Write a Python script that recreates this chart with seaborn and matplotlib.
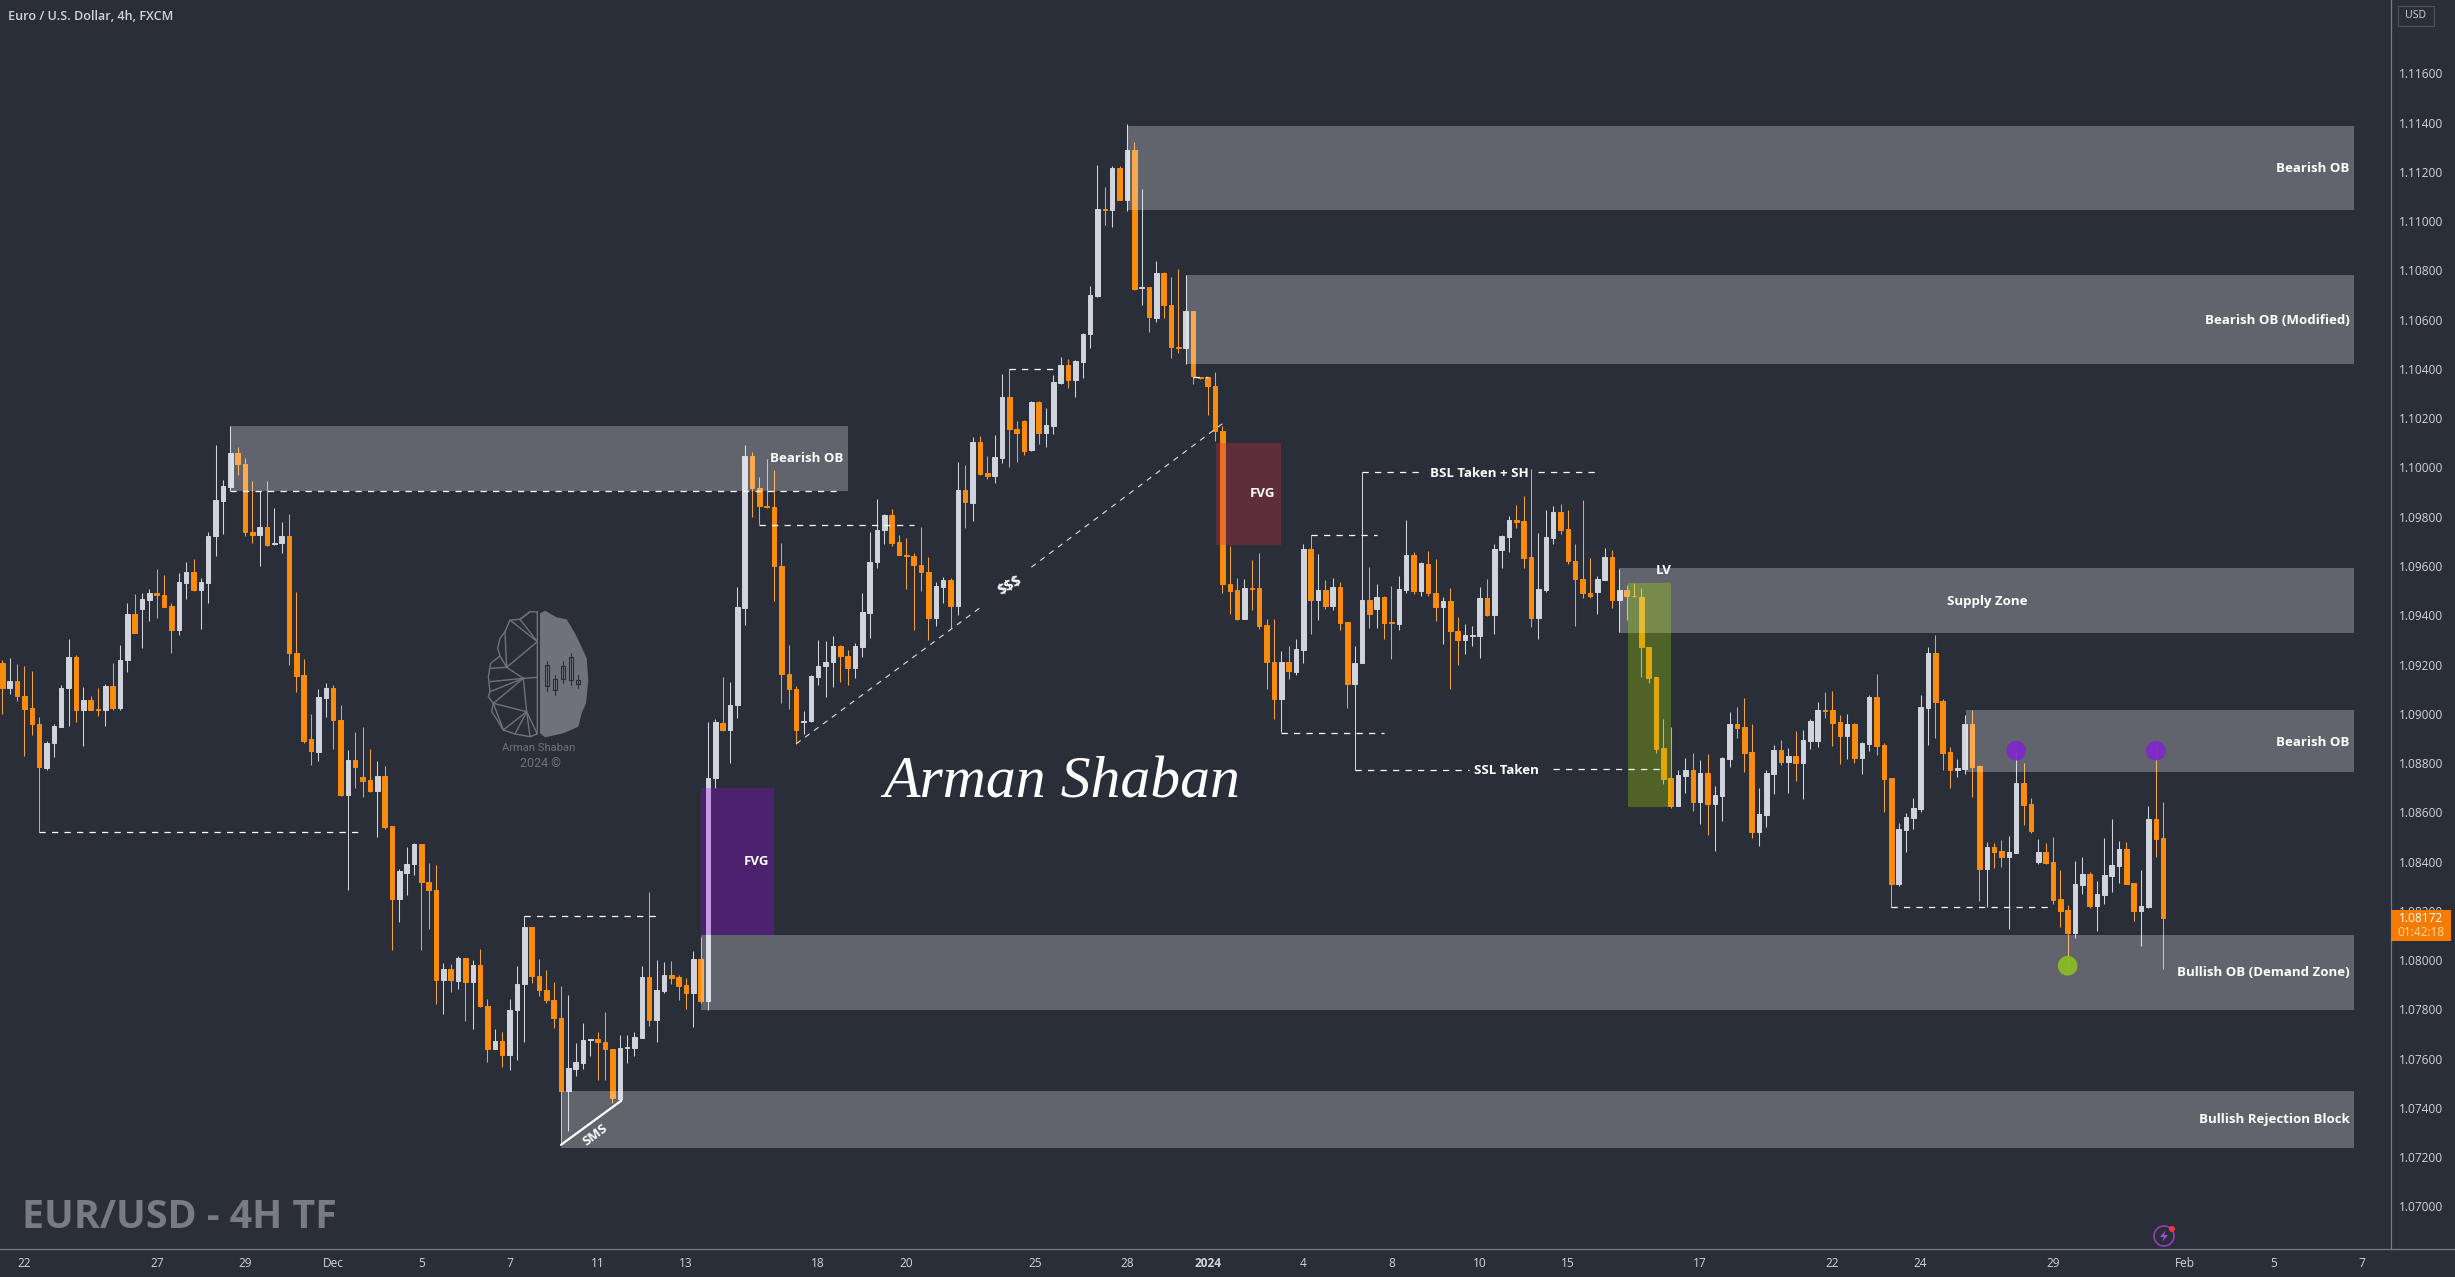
import matplotlib
matplotlib.use("Agg")
import matplotlib.pyplot as plt
from matplotlib.patches import Rectangle, Polygon, Circle
import numpy as np
import pandas as pd
import seaborn as sns

BG = "#2a2e39"
UP = "#d1d4dc"
DOWN = "#fb8c0e"
TXT = "#d1d4dc"
WATERMARK = "#6f727c"

# EUR/USD 4h candles, one value per bar
opens = [
    1.09206, 1.09103, 1.09134, 1.09072, 1.09024, 1.08958, 1.08778, 1.08881, 1.08947, 1.09103,
    1.09231, 1.09014, 1.09055, 1.09020, 1.09014, 1.09113, 1.09024, 1.09217, 1.09405, 1.09426,
    1.09463, 1.09490, 1.09483, 1.09438, 1.09339, 1.09533, 1.09577, 1.09504, 1.09533, 1.09720,
    1.09864, 1.09920, 1.10059, 1.10016, 1.09740, 1.09724, 1.09757, 1.09688, 1.09693, 1.09722,
    1.09245, 1.09156, 1.08898, 1.08846, 1.09065, 1.09105, 1.08974, 1.08672, 1.08813, 1.08745,
    1.08732, 1.08687, 1.08749, 1.08546, 1.08250, 1.08355, 1.08389, 1.08473, 1.08316, 1.08285,
    1.07919, 1.07962, 1.07917, 1.08008, 1.07910, 1.07981, 1.07813, 1.07639, 1.07672, 1.07614,
    1.07797, 1.07902, 1.08136, 1.07937, 1.07877, 1.07838, 1.07765, 1.07467, 1.07558, 1.07581,
    1.07676, 1.07681, 1.07668, 1.07637, 1.07438, 1.07645, 1.07643, 1.07683, 1.07931, 1.07757,
    1.07874, 1.07939, 1.07931, 1.07899, 1.07866, 1.08004, 1.07834, 1.08739, 1.08962, 1.08936,
    1.09035, 1.09430, 1.10047, 1.09915, 1.09844, 1.09840, 1.09600, 1.09161, 1.09101, 1.08967,
    1.08969, 1.09151, 1.09192, 1.09209, 1.09277, 1.09234, 1.09184, 1.09273, 1.09408, 1.09615,
    1.09745, 1.09809, 1.09699, 1.09645, 1.09639, 1.09604, 1.09575, 1.09387, 1.09515, 1.09544,
    1.09436, 1.09908, 1.09857, 1.10105, 1.09979, 1.09964, 1.10039, 1.10287, 1.10155, 1.10188,
    1.10070, 1.10267, 1.10138, 1.10169, 1.10345, 1.10418, 1.10356, 1.10428, 1.10540, 1.10697,
    1.11049, 1.11047, 1.11217, 1.11086, 1.11289, 1.10728, 1.10734, 1.10606, 1.10788, 1.10658,
    1.10490, 1.10484, 1.10635, 1.10366, 1.10366, 1.10329, 1.10147, 1.09525, 1.09501, 1.09384,
    1.09509, 1.09509, 1.09359, 1.09212, 1.09061, 1.09212, 1.09170, 1.09260, 1.09671, 1.09463,
    1.09501, 1.09438, 1.09513, 1.09372, 1.09122, 1.09207, 1.09460, 1.09426, 1.09476, 1.09372,
    1.09365, 1.09503, 1.09644, 1.09498, 1.09610, 1.09492, 1.09433, 1.09456, 1.09338, 1.09300,
    1.09316, 1.09317, 1.09469, 1.09401, 1.09666, 1.09718, 1.09785, 1.09781, 1.09636, 1.09390,
    1.09501, 1.09714, 1.09821, 1.09750, 1.09622, 1.09549, 1.09492, 1.09494, 1.09544, 1.09636,
    1.09461, 1.09502, 1.09480, 1.09476, 1.09273, 1.09148, 1.08860, 1.08738, 1.08626, 1.08748,
    1.08772, 1.08643, 1.08760, 1.08634, 1.08666, 1.08817, 1.08959, 1.08946, 1.08845, 1.08520,
    1.08589, 1.08756, 1.08853, 1.08804, 1.08829, 1.08800, 1.08890, 1.08889, 1.09015, 1.09015,
    1.08966, 1.08909, 1.08958, 1.08820, 1.08877, 1.09067, 1.08873, 1.08739, 1.08308, 1.08528,
    1.08576, 1.08613, 1.09023, 1.09246, 1.09051, 1.08844, 1.08771, 1.08775, 1.08958, 1.08787,
    1.08369, 1.08459, 1.08442, 1.08418, 1.08434, 1.08718, 1.08633, 1.08398, 1.08438, 1.08398,
    1.08248, 1.08203, 1.08110, 1.08304, 1.08349, 1.08219, 1.08264, 1.08341, 1.08381, 1.08450,
    1.08312, 1.08199, 1.08215, 1.08572, 1.08495,
]
highs = [
    1.09217, 1.09227, 1.09202, 1.09196, 1.09175, 1.08985, 1.08889, 1.08958, 1.09117, 1.09303,
    1.09237, 1.09107, 1.09072, 1.09103, 1.09119, 1.09206, 1.09281, 1.09450, 1.09486, 1.09492,
    1.09506, 1.09589, 1.09564, 1.09450, 1.09573, 1.09616, 1.09628, 1.09552, 1.09738, 1.10090,
    1.09951, 1.10169, 1.10084, 1.10040, 1.09945, 1.09906, 1.09945, 1.09835, 1.09780, 1.09813,
    1.09494, 1.09223, 1.08999, 1.09101, 1.09123, 1.09115, 1.09034, 1.08854, 1.08927, 1.08947,
    1.08858, 1.08809, 1.08788, 1.08546, 1.08368, 1.08461, 1.08477, 1.08473, 1.08395, 1.08386,
    1.07989, 1.07985, 1.08018, 1.08010, 1.08000, 1.08047, 1.07844, 1.07722, 1.07710, 1.07844,
    1.07974, 1.08177, 1.08136, 1.08006, 1.07958, 1.07912, 1.07896, 1.07857, 1.07664, 1.07743,
    1.07680, 1.07710, 1.07788, 1.07637, 1.07696, 1.07696, 1.07708, 1.07976, 1.08276, 1.08000,
    1.07992, 1.07996, 1.07939, 1.07927, 1.08037, 1.08094, 1.08967, 1.08977, 1.09149, 1.09130,
    1.09513, 1.10093, 1.10064, 1.09960, 1.10035, 1.09991, 1.09695, 1.09281, 1.09112, 1.09012,
    1.09157, 1.09298, 1.09294, 1.09314, 1.09281, 1.09260, 1.09287, 1.09492, 1.09737, 1.09873,
    1.09811, 1.09832, 1.09726, 1.09712, 1.09654, 1.09757, 1.09635, 1.09536, 1.09557, 1.09550,
    1.10022, 1.10012, 1.10124, 1.10126, 1.10047, 1.10132, 1.10380, 1.10399, 1.10188, 1.10192,
    1.10271, 1.10271, 1.10242, 1.10374, 1.10449, 1.10440, 1.10436, 1.10548, 1.10736, 1.11227,
    1.11138, 1.11223, 1.11223, 1.11393, 1.11322, 1.11132, 1.10734, 1.10838, 1.10792, 1.10772,
    1.10807, 1.10782, 1.10637, 1.10368, 1.10366, 1.10389, 1.10168, 1.09681, 1.09553, 1.09547,
    1.09624, 1.09651, 1.09386, 1.09383, 1.09254, 1.09275, 1.09303, 1.09689, 1.09725, 1.09648,
    1.09543, 1.09553, 1.09537, 1.09372, 1.09275, 1.09980, 1.09595, 1.09526, 1.09478, 1.09518,
    1.09559, 1.09786, 1.09656, 1.09617, 1.09660, 1.09628, 1.09475, 1.09509, 1.09391, 1.09363,
    1.09356, 1.09516, 1.09549, 1.09689, 1.09724, 1.09801, 1.09847, 1.09884, 1.09992, 1.09735,
    1.09827, 1.09843, 1.09851, 1.09827, 1.09691, 1.09867, 1.09631, 1.09559, 1.09672, 1.09664,
    1.09587, 1.09522, 1.09533, 1.09509, 1.09273, 1.09148, 1.08979, 1.08946, 1.08772, 1.08819,
    1.08841, 1.08812, 1.08837, 1.08707, 1.08825, 1.09007, 1.09028, 1.09064, 1.08959, 1.08699,
    1.08772, 1.08873, 1.08894, 1.08861, 1.08930, 1.08933, 1.08978, 1.09047, 1.09088, 1.09092,
    1.08994, 1.08998, 1.08962, 1.08885, 1.09076, 1.09161, 1.08881, 1.08739, 1.08556, 1.08597,
    1.08657, 1.09076, 1.09270, 1.09319, 1.09059, 1.08865, 1.08816, 1.08994, 1.09015, 1.08791,
    1.08479, 1.08475, 1.08487, 1.08503, 1.08852, 1.08800, 1.08657, 1.08491, 1.08475, 1.08499,
    1.08365, 1.08223, 1.08402, 1.08418, 1.08357, 1.08321, 1.08495, 1.08572, 1.08483, 1.08479,
    1.08312, 1.08365, 1.08625, 1.08873, 1.08641,
]
lows = [
    1.08999, 1.09082, 1.09051, 1.08827, 1.08912, 1.08519, 1.08771, 1.08823, 1.08947, 1.08952,
    1.08968, 1.08871, 1.09016, 1.08989, 1.08952, 1.09016, 1.09016, 1.09171, 1.09326, 1.09268,
    1.09378, 1.09388, 1.09434, 1.09248, 1.09320, 1.09465, 1.09500, 1.09345, 1.09450, 1.09641,
    1.09730, 1.09904, 1.09968, 1.09720, 1.09693, 1.09599, 1.09682, 1.09686, 1.09651, 1.09200,
    1.09088, 1.08881, 1.08792, 1.08807, 1.08985, 1.08858, 1.08668, 1.08285, 1.08699, 1.08664,
    1.08682, 1.08498, 1.08533, 1.08041, 1.08155, 1.08264, 1.08347, 1.08041, 1.08126, 1.07821,
    1.07782, 1.07871, 1.07881, 1.07751, 1.07722, 1.07809, 1.07587, 1.07639, 1.07567, 1.07554,
    1.07596, 1.07668, 1.07906, 1.07854, 1.07825, 1.07724, 1.07250, 1.07308, 1.07529, 1.07556,
    1.07610, 1.07513, 1.07513, 1.07420, 1.07434, 1.07583, 1.07610, 1.07683, 1.07734, 1.07667,
    1.07868, 1.07903, 1.07838, 1.07801, 1.07728, 1.07826, 1.07797, 1.08698, 1.08929, 1.08801,
    1.08983, 1.09360, 1.09799, 1.09770, 1.09836, 1.09457, 1.09043, 1.09018, 1.08878, 1.08919,
    1.08967, 1.09118, 1.09070, 1.09107, 1.09128, 1.09116, 1.09147, 1.09232, 1.09308, 1.09592,
    1.09691, 1.09681, 1.09643, 1.09505, 1.09339, 1.09499, 1.09298, 1.09356, 1.09449, 1.09350,
    1.09401, 1.09753, 1.09784, 1.09971, 1.09954, 1.09935, 1.10018, 1.10002, 1.10022, 1.10049,
    1.10068, 1.10095, 1.10084, 1.10136, 1.10337, 1.10322, 1.10285, 1.10364, 1.10484, 1.10693,
    1.10985, 1.10975, 1.11086, 1.11043, 1.10722, 1.10658, 1.10550, 1.10592, 1.10608, 1.10443,
    1.10463, 1.10420, 1.10339, 1.10360, 1.10213, 1.10109, 1.09491, 1.09405, 1.09380, 1.09383,
    1.09421, 1.09346, 1.09101, 1.08980, 1.08926, 1.09142, 1.09157, 1.09207, 1.09325, 1.09380,
    1.09426, 1.09421, 1.09342, 1.09024, 1.08771, 1.09207, 1.09349, 1.09350, 1.09304, 1.09223,
    1.09342, 1.09491, 1.09486, 1.09479, 1.09480, 1.09377, 1.09284, 1.09101, 1.09198, 1.09242,
    1.09275, 1.09227, 1.09399, 1.09322, 1.09591, 1.09658, 1.09755, 1.09590, 1.09353, 1.09302,
    1.09495, 1.09690, 1.09729, 1.09610, 1.09357, 1.09471, 1.09470, 1.09406, 1.09543, 1.09430,
    1.09332, 1.09380, 1.09476, 1.09149, 1.09126, 1.08839, 1.08715, 1.08619, 1.08626, 1.08677,
    1.08605, 1.08553, 1.08508, 1.08443, 1.08565, 1.08784, 1.08902, 1.08764, 1.08496, 1.08463,
    1.08540, 1.08674, 1.08792, 1.08678, 1.08727, 1.08655, 1.08856, 1.08865, 1.08982, 1.08869,
    1.08796, 1.08816, 1.08800, 1.08755, 1.08848, 1.08832, 1.08601, 1.08215, 1.08300, 1.08438,
    1.08532, 1.08601, 1.08873, 1.08901, 1.08771, 1.08698, 1.08743, 1.08755, 1.08662, 1.08239,
    1.08215, 1.08373, 1.08377, 1.08126, 1.08434, 1.08548, 1.08515, 1.08390, 1.08390, 1.08227,
    1.08134, 1.07959, 1.08089, 1.08268, 1.08211, 1.08118, 1.08227, 1.08276, 1.08312, 1.08308,
    1.08158, 1.08057, 1.08211, 1.08418, 1.07963,
]
closes = [
    1.09103, 1.09134, 1.09072, 1.09020, 1.08958, 1.08782, 1.08883, 1.08952, 1.09103, 1.09231,
    1.09014, 1.09055, 1.09016, 1.09016, 1.09113, 1.09024, 1.09219, 1.09405, 1.09326, 1.09465,
    1.09492, 1.09481, 1.09434, 1.09339, 1.09535, 1.09577, 1.09504, 1.09535, 1.09722, 1.09869,
    1.09924, 1.10059, 1.10016, 1.09740, 1.09724, 1.09757, 1.09686, 1.09693, 1.09722, 1.09245,
    1.09154, 1.08891, 1.08848, 1.09070, 1.09105, 1.08974, 1.08672, 1.08813, 1.08784, 1.08728,
    1.08687, 1.08749, 1.08540, 1.08250, 1.08360, 1.08389, 1.08473, 1.08316, 1.08283, 1.07919,
    1.07962, 1.07919, 1.08010, 1.07910, 1.07981, 1.07813, 1.07639, 1.07672, 1.07614, 1.07799,
    1.07902, 1.08136, 1.07937, 1.07877, 1.07838, 1.07765, 1.07467, 1.07561, 1.07587, 1.07674,
    1.07678, 1.07668, 1.07637, 1.07440, 1.07643, 1.07648, 1.07687, 1.07931, 1.07757, 1.07878,
    1.07939, 1.07927, 1.07895, 1.07866, 1.08004, 1.07834, 1.08739, 1.08967, 1.08933, 1.09035,
    1.09434, 1.10047, 1.09915, 1.09842, 1.09840, 1.09600, 1.09161, 1.09101, 1.08933, 1.08971,
    1.09153, 1.09194, 1.09211, 1.09277, 1.09234, 1.09186, 1.09277, 1.09412, 1.09617, 1.09747,
    1.09809, 1.09695, 1.09643, 1.09641, 1.09604, 1.09575, 1.09389, 1.09519, 1.09544, 1.09436,
    1.09908, 1.09859, 1.10105, 1.09975, 1.09964, 1.10043, 1.10287, 1.10155, 1.10138, 1.10068,
    1.10267, 1.10138, 1.10173, 1.10347, 1.10418, 1.10356, 1.10432, 1.10542, 1.10701, 1.11049,
    1.11045, 1.11217, 1.11088, 1.11289, 1.10726, 1.10734, 1.10610, 1.10788, 1.10658, 1.10488,
    1.10486, 1.10635, 1.10370, 1.10362, 1.10329, 1.10147, 1.09525, 1.09499, 1.09384, 1.09509,
    1.09506, 1.09357, 1.09212, 1.09061, 1.09212, 1.09172, 1.09261, 1.09671, 1.09463, 1.09501,
    1.09438, 1.09513, 1.09369, 1.09122, 1.09208, 1.09460, 1.09406, 1.09476, 1.09369, 1.09369,
    1.09506, 1.09644, 1.09498, 1.09612, 1.09491, 1.09434, 1.09456, 1.09337, 1.09300, 1.09318,
    1.09319, 1.09469, 1.09401, 1.09668, 1.09720, 1.09786, 1.09779, 1.09633, 1.09390, 1.09506,
    1.09717, 1.09821, 1.09747, 1.09621, 1.09548, 1.09491, 1.09479, 1.09547, 1.09636, 1.09463,
    1.09502, 1.09479, 1.09478, 1.09272, 1.09146, 1.08858, 1.08735, 1.08626, 1.08752, 1.08772,
    1.08643, 1.08760, 1.08634, 1.08670, 1.08821, 1.08959, 1.08942, 1.08841, 1.08520, 1.08593,
    1.08760, 1.08853, 1.08804, 1.08829, 1.08800, 1.08893, 1.08970, 1.09015, 1.09012, 1.08962,
    1.08909, 1.08958, 1.08820, 1.08881, 1.09067, 1.08869, 1.08735, 1.08308, 1.08532, 1.08580,
    1.08617, 1.09027, 1.09246, 1.09047, 1.08840, 1.08771, 1.08779, 1.08958, 1.08783, 1.08369,
    1.08459, 1.08438, 1.08418, 1.08438, 1.08718, 1.08629, 1.08524, 1.08438, 1.08394, 1.08243,
    1.08199, 1.08110, 1.08308, 1.08349, 1.08219, 1.08268, 1.08345, 1.08386, 1.08450, 1.08308,
    1.08199, 1.08219, 1.08572, 1.08491, 1.08172,
]

# axis labels
price_ticks = [1.070, 1.072, 1.074, 1.076, 1.078, 1.080, 1.082, 1.084, 1.086, 1.088, 1.090, 1.092,
               1.094, 1.096, 1.098, 1.100, 1.102, 1.104, 1.106, 1.108, 1.110, 1.112, 1.114, 1.116]
date_bars = [3, 21, 33, 45, 57, 69, 81, 93, 111, 123, 140.5, 153, 164, 177, 189, 201, 213, 231,
             249, 261, 279, 297, 309, 321]
date_labels = ["22", "27", "29", "Dec", "5", "7", "11", "13", "18", "20", "25", "28", "2024", "4",
               "8", "10", "15", "17", "22", "24", "29", "Feb", "5", "7"]

# grey zones: left bar, right bar, top price, bottom price
zone_left = [153, 161, 31, 220, 267.2, 95, 76]
zone_right = [320, 320, 115, 320, 320, 320, 320]
zone_top = [1.11388, 1.10782, 1.10169, 1.09591, 1.09015, 1.08101, 1.07467]
zone_bottom = [1.11047, 1.10420, 1.09904, 1.09329, 1.08763, 1.07797, 1.07238]

zone_text = ["Bearish OB", "Bearish OB (Modified)", "Bearish OB", "Bearish OB",
             "Bullish OB (Demand Zone)", "Bullish Rejection Block"]
zone_text_x = [319.4, 319.4, 114.4, 319.4, 319.4, 319.4]
zone_text_y = [1.11220, 1.10602, 1.10043, 1.08891, 1.07955, 1.07358]

# dashed levels: start bar, end bar, price
level_start = [5, 31, 71, 103, 137, 162, 178, 174, 185, 209, 184, 211, 257]
level_end = [49, 113.5, 89, 124, 143, 164, 187, 188, 193, 217, 199.5, 226, 279]
level_price = [1.08519, 1.09904, 1.08179, 1.09768, 1.10399, 1.10366, 1.09724, 1.08924, 1.09980,
               1.09980, 1.08771, 1.08775, 1.08214]

swing_bars = [274, 293, 281]
swing_prices = [1.08850, 1.08850, 1.07977]
swing_colors = ["#7f28c9", "#7f28c9", "#8cbd24"]

sns.set_theme(style="dark", rc={"axes.facecolor": BG, "figure.facecolor": BG})
plt.rcParams["font.family"] = ["Open Sans", "DejaVu Sans"]

W, H = 2455, 1277
fig = plt.figure(figsize=(W / 100, H / 100), dpi=100)
ax = fig.add_axes([0, 1 - 1249 / H, 2391 / W, 1249 / H])

df = pd.DataFrame({"open": opens, "high": highs, "low": lows, "close": closes})
df["bar"] = np.arange(len(df))
df["body"] = (df["close"] - df["open"]).abs()
df["base"] = df[["open", "close"]].min(axis=1)
df["rising"] = df["close"] >= df["open"]

# wicks first, then the bodies on top
for rising, color in [(True, UP), (False, "#f6a23c")]:
    part = df[df["rising"] == rising]
    ax.vlines(part["bar"], part["low"], part["high"], color=color, lw=0.75, zorder=2)

for rising, color in [(True, UP), (False, DOWN)]:
    part = df[df["rising"] == rising]
    sns.barplot(data=part, x="bar", y="body", bottom=part["base"].values, native_scale=True,
                width=0.62, color=color, saturation=1, edgecolor=color, linewidth=0.7,
                errorbar=None, zorder=3, ax=ax)

# zones sit over the candles
for left, right, top, bottom in zip(zone_left, zone_right, zone_top, zone_bottom):
    ax.add_patch(Rectangle((left, bottom), right - left, top - bottom, color="white", alpha=0.26,
                           lw=0, zorder=4))
ax.add_patch(Rectangle((95, 1.08101), 10, 1.08698 - 1.08101, color="#a800ff", alpha=0.27, lw=0, zorder=4))
ax.add_patch(Rectangle((165.1, 1.09685), 8.9, 1.10101 - 1.09685, color="#cf2e3f", alpha=0.32, lw=0, zorder=4))
ax.add_patch(Rectangle((221.2, 1.08621), 5.8, 1.09533 - 1.08621, color="#aae800", alpha=0.29, lw=0, zorder=4))

for start, end, price in zip(level_start, level_end, level_price):
    ax.plot([start, end], [price, price], color="white", lw=0.9, dashes=(5, 5), zorder=5)

# liquidity trend line, broken for its label, and the solid SMS line
ax.plot([108, 133], [1.08878, 1.09430], color="white", lw=0.8, dashes=(5, 5), alpha=0.85, zorder=5)
ax.plot([140, 166], [1.09595, 1.10178], color="white", lw=0.8, dashes=(5, 5), alpha=0.85, zorder=5)
ax.plot([76, 84.2], [1.07250, 1.07429], color="white", lw=1.6, zorder=5)

sns.scatterplot(x=swing_bars, y=swing_prices, hue=swing_bars, palette=dict(zip(swing_bars, swing_colors)),
                s=200, linewidth=0, alpha=0.93, legend=False, zorder=6, ax=ax)

label_kw = dict(color="white", fontsize=9.5, fontweight="bold", va="center_baseline", zorder=7)
for text, x, y in zip(zone_text, zone_text_x, zone_text_y):
    ax.text(x, y, text, ha="right", **label_kw)
ax.text(270, 1.09463, "Supply Zone", ha="center", **label_kw)
ax.text(102.6, 1.08406, "FVG", ha="center", **label_kw)
ax.text(171.5, 1.09900, "FVG", ha="center", **label_kw)
ax.text(226, 1.09587, "LV", ha="center", **label_kw)
ax.text(201, 1.09982, "BSL Taken + SH", ha="center", **label_kw)
ax.text(204.6, 1.08775, "SSL Taken", ha="center", **label_kw)
ax.text(137, 1.09526, "$$$", ha="center", rotation=30, rotation_mode="anchor",
        **{**label_kw, "fontsize": 10.5})
ax.text(80.6, 1.07295, "SMS", ha="center", rotation=37, rotation_mode="anchor", **label_kw)

# axes
ax.set_xlim(-0.33, 325)
ax.set_ylim(1.06827, 1.11898)
ax.set_xlabel("")
ax.set_ylabel("")
ax.yaxis.tick_right()
ax.set_yticks(price_ticks, [f"{p:.5f}" for p in price_ticks])
ax.set_xticks(date_bars, date_labels)
ax.tick_params(axis="y", length=0, pad=6, labelsize=8.6, labelcolor=TXT)
ax.tick_params(axis="x", length=0, pad=5.5, labelsize=8.6, labelcolor=TXT)
ax.get_xticklabels()[date_labels.index("2024")].set_fontweight("bold")
ax.grid(False)
sns.despine(ax=ax, top=True, left=True, right=False, bottom=False)
for side in ["right", "bottom"]:
    ax.spines[side].set_color("#787b86")
    ax.spines[side].set_linewidth(0.9)

# everything below is screen furniture, placed in pixels over the chart
over = fig.add_axes([0, 0, 1, 1], facecolor="none")
over.set_xlim(0, W)
over.set_ylim(H, 0)
over.axis("off")
over.plot([2391, W], [1249, 1249], color="#787b86", lw=0.9)

over.text(8, 16, "Euro / U.S. Dollar, 4h, FXCM", color=TXT, fontsize=9.1, fontweight="semibold", va="center")
over.text(22, 1218, "EUR/USD - 4H TF", color="#787b86", fontsize=28.4, fontweight="bold", va="center")

# price tag and currency box
over.add_patch(Rectangle((2391, 910), 60, 31, color="#f57c00", lw=0, zorder=5))
over.text(2421, 918.5, "1.08172", color="white", fontsize=8.6, ha="center", va="center", zorder=6)
over.text(2421, 932.5, "01:42:18", color="#ffd9a8", fontsize=8.6, ha="center", va="center", zorder=6)
over.add_patch(Rectangle((2398, 6), 36, 20, fc=BG, ec="#50535e", lw=0.8, zorder=5))
over.text(2416, 16, "USD", color=TXT, fontsize=7.6, ha="center", va="center", zorder=6)

# signature, no script font is installed so an italic serif stands in
over.text(1062, 783, "Arman Shaban", color="white", fontsize=43, family="Liberation Serif",
          fontstyle="italic", ha="center", va="center")

# alert badge
over.add_patch(Circle((2164, 1236), 10, fc="none", ec="#8a3fb0", lw=1.3))
over.add_patch(Polygon([(2166, 1230), (2160, 1237), (2164, 1237), (2162, 1242), (2168, 1235), (2164, 1235)],
                       fc="#a04fd0", lw=0))
over.add_patch(Circle((2172, 1229), 3, fc="#f23645", lw=0))


# watermark logo, coordinates taken from a 3x crop
def lx(v):
    return 450 + np.asarray(v) / 3


def ly(v):
    return 580 + np.asarray(v) / 3


blob = [(270, 100), (285, 92), (320, 112), (350, 118), (375, 160), (392, 195), (410, 235), (415, 300),
        (408, 370), (395, 400), (385, 440), (340, 460), (285, 472), (270, 460)]
over.add_patch(Polygon([(lx(a), ly(b)) for a, b in blob], fc=WATERMARK, lw=0))
mesh = [
    [(262, 96), (240, 95), (210, 118), (180, 120), (165, 155), (150, 175), (143, 205), (150, 228), (122, 250),
     (115, 290), (120, 335), (115, 350), (130, 370), (125, 395), (145, 425), (160, 450), (195, 462), (240, 470),
     (262, 462), (262, 96)],
    [(240, 95), (210, 118), (262, 185), (170, 262), (220, 295), (262, 292)],
    [(180, 120), (262, 185)],
    [(165, 155), (170, 262), (150, 228)],
    [(170, 262), (122, 265)],
    [(220, 295), (120, 305)],
    [(220, 295), (130, 370), (230, 395), (240, 470)],
    [(220, 295), (230, 395), (262, 462)],
    [(230, 395), (160, 450)],
    [(230, 395), (195, 462)],
    [(130, 370), (160, 450)],
    [(220, 295), (120, 335)],
]
for seg in mesh:
    over.plot(lx([p[0] for p in seg]), ly([p[1] for p in seg]), color=WATERMARK, lw=1.0)
for cx, top, bottom in [(292, 242, 332), (316, 284, 344), (338, 243, 310), (362, 218, 315), (383, 286, 325)]:
    over.plot([lx(cx), lx(cx)], [ly(top), ly(bottom)], color=BG, lw=0.8)
    over.add_patch(Rectangle((lx(cx - 6), ly(top + 14)), 4, (bottom - top - 28) / 3, fc=WATERMARK, ec=BG, lw=0.8))
over.text(lx(267), ly(503), "Arman Shaban", color=WATERMARK, fontsize=8, family="Roboto", ha="center", va="center")
over.text(lx(272), ly(550), "2024 \u00a9", color=WATERMARK, fontsize=9, family="Roboto", ha="center", va="center")

fig.savefig("out.png", dpi=100, facecolor=BG)
